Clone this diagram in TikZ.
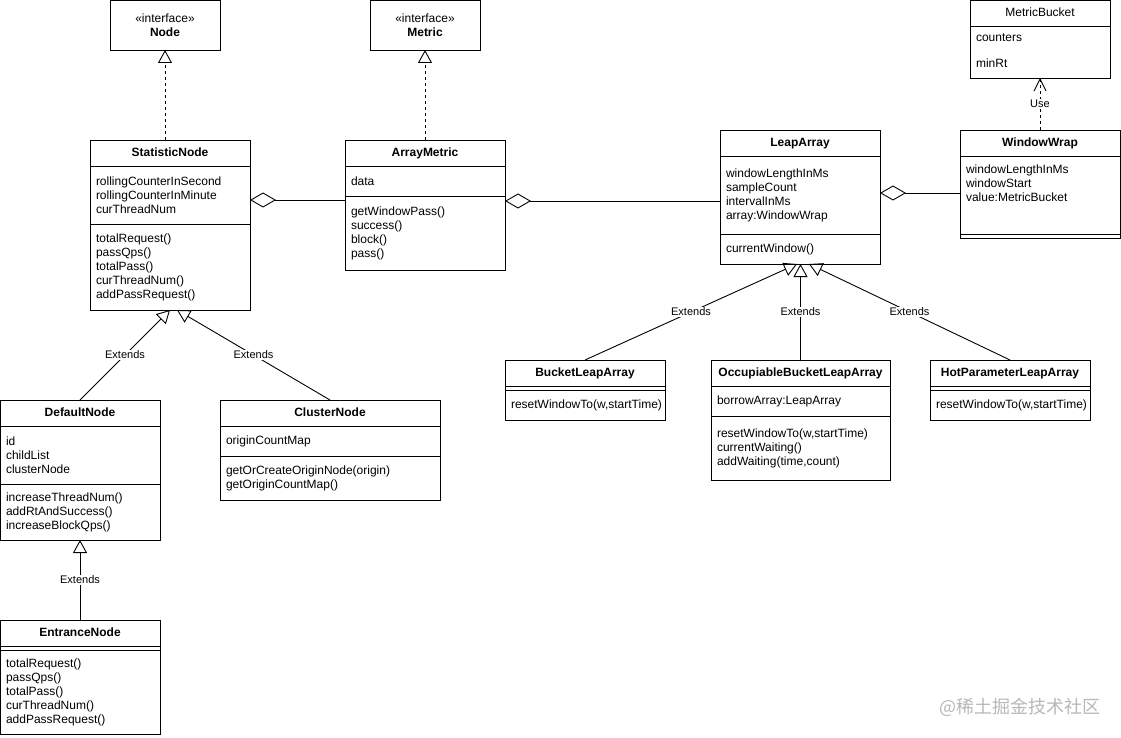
\documentclass[tikz,border=0pt]{standalone}
\usepackage{fontspec}
\setmainfont{Liberation Sans}
\newfontfamily\cjk{Noto Sans CJK SC}
\usepackage{tikz}
\usetikzlibrary{positioning,arrows.meta}

\begin{document}
\begin{tikzpicture}[
  x=1pt, y=-1pt,
  every node/.style={font=\fontsize{12}{14}\selectfont, outer sep=0pt},
  iface/.style={draw, line width=0.9pt, anchor=north west, minimum width=110pt, minimum height=50pt, align=center, inner sep=0pt},
  cls/.style={draw, line width=0.9pt, anchor=north west, minimum width=#1, minimum height=26pt, inner sep=0pt, text height=8.6pt, text depth=2.5pt, font=\fontsize{12}{14}\selectfont\bfseries},
  fields/.style={draw, line width=0.9pt, align=left, text width=#1, inner xsep=6pt, inner ysep=0pt},
  lbl/.style={fill=white, inner sep=1pt, font=\fontsize{11}{13}\selectfont},
  ext/.style={line width=0.9pt, -{Triangle[open, length=13pt, width=14pt]}},
  realize/.style={ext, dash pattern=on 3pt off 3pt},
  usedep/.style={line width=0.9pt, dash pattern=on 3pt off 3pt, -{Straight Barb[length=12pt, width=12pt]}},
  aggr/.style={line width=0.9pt, {Diamond[open, length=26pt, width=15pt]}-}
]
\fill[white] (0,0) rectangle (1121,738);
\useasboundingbox (0,0) rectangle (1121,738);

\node[iface] (nd) at (110,0) {«interface»\\\textbf{Node}};
\node[iface] (mt) at (370,0) {«interface»\\\textbf{Metric}};

\node[cls=160pt] (sn) at (90,140) {StatisticNode};
\node[fields=148pt, minimum height=58pt, below=0pt of sn] (sn-a) {rollingCounterInSecond\\rollingCounterInMinute\\curThreadNum};
\node[fields=148pt, minimum height=86pt, below=0pt of sn-a] (sn-m) {totalRequest()\\passQps()\\totalPass()\\curThreadNum()\\addPassRequest()};

\node[cls=160pt] (am) at (345,140) {ArrayMetric};
\node[fields=148pt, minimum height=30pt, below=0pt of am] (am-a) {data};
\node[fields=148pt, minimum height=74pt, below=0pt of am-a] (am-m) {getWindowPass()\\success()\\block()\\pass()};

\node[cls=160pt] (la) at (720,130) {LeapArray};
\node[fields=148pt, minimum height=78pt, below=0pt of la] (la-a) {windowLengthInMs\\sampleCount\\intervalInMs\\array:WindowWrap};
\node[fields=148pt, minimum height=30pt, below=0pt of la-a] (la-m) {currentWindow()};

\node[cls=160pt] (ww) at (960,130) {WindowWrap};
\node[fields=148pt, minimum height=78pt, below=0pt of ww] (ww-a) {windowLengthInMs\\windowStart\\value:MetricBucket\\[10pt]\mbox{}};
\node[fields=148pt, minimum height=4pt, below=0pt of ww-a] (ww-m) {};

\node[cls=140pt, font=\fontsize{12}{14}\selectfont] (mb) at (970,0) {MetricBucket};
\node[fields=128pt, minimum height=52pt, below=0pt of mb] (mb-a) {\mbox{}\\[-8pt]counters\\[12pt]minRt};

\node[cls=160pt] (bl) at (505,360) {BucketLeapArray};
\node[fields=148pt, minimum height=4pt, below=0pt of bl] (bl-a) {};
\node[fields=148pt, minimum height=30pt, below=0pt of bl-a] (bl-m) {resetWindowTo(w,startTime)};

\node[cls=179pt] (ob) at (711,360) {OccupiableBucketLeapArray};
\node[fields=167pt, minimum height=30pt, below=0pt of ob] (ob-a) {borrowArray:LeapArray};
\node[fields=167pt, minimum height=64pt, below=0pt of ob-a] (ob-m) {resetWindowTo(w,startTime)\\currentWaiting()\\addWaiting(time,count)};

\node[cls=160pt] (hp) at (930,360) {HotParameterLeapArray};
\node[fields=148pt, minimum height=4pt, below=0pt of hp] (hp-a) {};
\node[fields=148pt, minimum height=30pt, below=0pt of hp-a] (hp-m) {resetWindowTo(w,startTime)};

\node[cls=160pt] (dn) at (0,400) {DefaultNode};
\node[fields=148pt, minimum height=58pt, below=0pt of dn] (dn-a) {id\\childList\\clusterNode};
\node[fields=148pt, minimum height=56pt, below=0pt of dn-a] (dn-m) {increaseThreadNum()\\addRtAndSuccess()\\increaseBlockQps()};

\node[cls=220pt] (cn) at (220,400) {ClusterNode};
\node[fields=208pt, minimum height=30pt, below=0pt of cn] (cn-a) {originCountMap};
\node[fields=208pt, minimum height=44pt, below=0pt of cn-a] (cn-m) {getOrCreateOriginNode(origin)\\getOriginCountMap()};

\node[cls=160pt] (en) at (0,620) {EntranceNode};
\node[fields=148pt, minimum height=4pt, below=0pt of en] (en-a) {};
\node[fields=148pt, minimum height=84pt, below=0pt of en-a] (en-m) {totalRequest()\\passQps()\\totalPass()\\curThreadNum()\\addPassRequest()};

\node[text=black!28, font=\cjk\fontsize{18}{18}\selectfont] (wm) at (1020,707) {@稀土掘金技术社区};

\draw[realize] (nd.south |- sn.north) -- (nd.south);
\draw[realize] (am.north) -- (mt.south);
\draw[aggr] ([yshift=-5pt]sn-a.east) -- ([yshift=-5pt]sn-a.east -| am-a.west);
\draw[aggr] ([yshift=-5pt]am-m.north east) -- ([yshift=-5pt]am-m.north east -| la-a.west);
\draw[aggr] ([yshift=2pt]la-a.east) -- ([yshift=2pt]la-a.east -| ww-a.west);
\draw[usedep] (ww.north) -- node[lbl]{Use} (mb-a.south);
\draw[ext] (dn.north) -- node[lbl]{Extends} (sn-m.south);
\draw[ext] (cn.north) -- node[lbl]{Extends} ([xshift=7pt]sn-m.south);
\draw[ext] (en.north) -- node[lbl]{Extends} (dn-m.south);
\draw[ext] (bl.north) -- node[lbl]{Extends} ([xshift=-3pt]la-m.south);
\draw[ext] (ob.north) -- node[lbl]{Extends} (ob.north |- la-m.south);
\draw[ext] (hp.north) -- node[lbl]{Extends} ([xshift=9pt]la-m.south);
\end{tikzpicture}
\end{document}
